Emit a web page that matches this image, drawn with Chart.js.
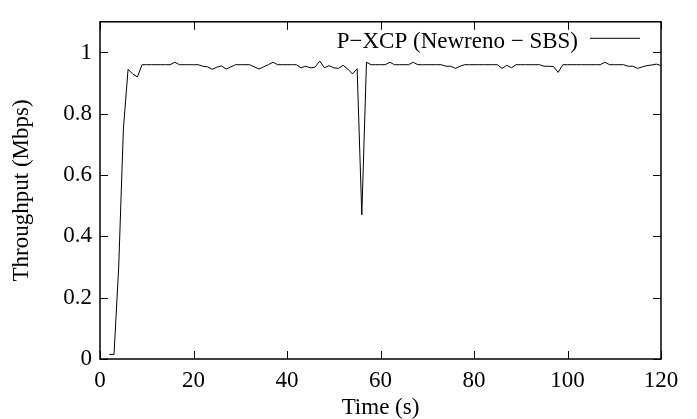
<!DOCTYPE html>
<html>
<head>
<meta charset="utf-8">
<title>P-XCP throughput</title>
<script src="https://cdn.jsdelivr.net/npm/chart.js@4/dist/chart.umd.min.js"></script>
<style>
  html, body { margin: 0; padding: 0; background: #fff; }
  #chart { display: block; }
</style>
</head>
<body>
<canvas id="chart" width="697" height="419"></canvas>
<script>
// ---- data ----
const timeS = [
  2, 3, 4, 5, 6, 7, 8, 9, 10, 11, 12, 13, 14, 15, 16, 17, 18, 19, 20,
  21, 22, 23, 24, 25, 26, 27, 28, 29, 30, 31, 32, 33, 34, 35, 36, 37, 38, 39, 40,
  41, 42, 43, 44, 45, 46, 47, 48, 49, 50, 51, 52, 53, 54, 55, 56, 57, 58, 59, 60,
  61, 62, 63, 64, 65, 66, 67, 68, 69, 70, 71, 72, 73, 74, 75, 76, 77, 78, 79, 80,
  81, 82, 83, 84, 85, 86, 87, 88, 89, 90, 91, 92, 93, 94, 95, 96, 97, 98, 99, 100,
  101, 102, 103, 104, 105, 106, 107, 108, 109, 110, 111, 112, 113, 114, 115, 116, 117, 118, 119, 120
];
const throughputMbps = [
  0.015, 0.015, 0.30, 0.75, 0.945, 0.93, 0.92, 0.96, 0.96, 0.96, 0.96, 0.96, 0.96, 0.96, 0.968, 0.96, 0.96, 0.96, 0.96,
  0.96, 0.955, 0.953, 0.945, 0.952, 0.956, 0.946, 0.953, 0.96, 0.96, 0.96, 0.96, 0.953, 0.946, 0.953, 0.96, 0.968, 0.96, 0.96, 0.96,
  0.96, 0.96, 0.95, 0.955, 0.95, 0.952, 0.972, 0.95, 0.957, 0.95, 0.948, 0.958, 0.946, 0.93, 0.947, 0.47, 0.968, 0.96, 0.96, 0.96,
  0.96, 0.968, 0.96, 0.96, 0.96, 0.96, 0.968, 0.96, 0.96, 0.96, 0.96, 0.96, 0.96, 0.955, 0.955, 0.948, 0.955, 0.96, 0.96, 0.96,
  0.96, 0.96, 0.96, 0.96, 0.96, 0.948, 0.958, 0.95, 0.96, 0.96, 0.96, 0.96, 0.96, 0.96, 0.955, 0.955, 0.954, 0.935, 0.96, 0.96,
  0.96, 0.96, 0.96, 0.96, 0.96, 0.96, 0.96, 0.968, 0.96, 0.96, 0.96, 0.96, 0.955, 0.955, 0.948, 0.953, 0.957, 0.959, 0.962, 0.957
];
const xTickValues = [0, 20, 40, 60, 80, 100, 120];
const yTickValues = [0, 0.2, 0.4, 0.6, 0.8, 1];
const seriesLabel = 'P\u2212XCP (Newreno \u2212 SBS)';

const FONT = { family: '"Liberation Serif", "DejaVu Serif", serif', size: 23 };
const TICK_LEN = 8;

// gnuplot-style frame: box, inward ticks mirrored on all sides, key inside top-right
const gnuplotFrame = {
  id: 'gnuplotFrame',
  afterDatasetsDraw(chart) {
    const { ctx, chartArea: a, scales } = chart;
    ctx.save();
    ctx.strokeStyle = '#000';
    ctx.lineWidth = 1;
    ctx.beginPath();
    xTickValues.forEach((v) => {
      const px = Math.round(scales.x.getPixelForValue(v)) + 0.5;
      ctx.moveTo(px, a.bottom); ctx.lineTo(px, a.bottom - TICK_LEN);
      ctx.moveTo(px, a.top); ctx.lineTo(px, a.top + TICK_LEN);
    });
    yTickValues.forEach((v) => {
      const py = Math.round(scales.y.getPixelForValue(v)) + 0.5;
      ctx.moveTo(a.left, py); ctx.lineTo(a.left + TICK_LEN, py);
      ctx.moveTo(a.right, py); ctx.lineTo(a.right - TICK_LEN, py);
    });
    ctx.stroke();

    ctx.lineWidth = 1.5;
    ctx.strokeRect(a.left, a.top, a.right - a.left, a.bottom - a.top);

    // key
    const ds = chart.data.datasets[0];
    ctx.fillStyle = '#000';
    ctx.font = FONT.size + 'px ' + FONT.family;
    ctx.textAlign = 'right';
    ctx.textBaseline = 'alphabetic';
    ctx.fillText(ds.label, a.right - 83, a.top + 26);
    ctx.lineWidth = 1;
    ctx.strokeStyle = ds.borderColor;
    ctx.beginPath();
    ctx.moveTo(a.right - 71, a.top + 16.5);
    ctx.lineTo(a.right - 21, a.top + 16.5);
    ctx.stroke();
    ctx.restore();
  },
};

const ctx = document.getElementById('chart');

new Chart(ctx, {
  type: 'line',
  data: {
    datasets: [
      {
        label: seriesLabel,
        data: timeS.map((t, i) => ({ x: t, y: throughputMbps[i] })),
        borderColor: '#000',
        borderWidth: 1,
        pointRadius: 0,
        tension: 0,
        fill: false,
      },
    ],
  },
  options: {
    responsive: false,
    animation: false,
    devicePixelRatio: 1,
    layout: { padding: { top: 7, right: 36, left: 0, bottom: 0 } },
    plugins: {
      legend: { display: false },
      tooltip: { enabled: false },
    },
    scales: {
      x: {
        type: 'linear',
        min: 0,
        max: 120,
        afterBuildTicks: (s) => { s.ticks = xTickValues.map((v) => ({ value: v })); },
        afterFit: (s) => { s.height = 60; },
        grid: { display: false, drawTicks: false },
        border: { display: false },
        ticks: { color: '#000', font: FONT, padding: 8, maxRotation: 0, autoSkip: false },
        title: { display: true, text: 'Time (s)', color: '#000', font: FONT, padding: { top: 0, bottom: -3 } },
      },
      y: {
        type: 'linear',
        min: 0,
        max: 1.1,
        afterBuildTicks: (s) => { s.ticks = yTickValues.map((v) => ({ value: v })); },
        afterFit: (s) => { s.width = 100; },
        grid: { display: false, drawTicks: false },
        border: { display: false },
        ticks: { color: '#000', font: FONT, padding: 8, autoSkip: false, callback: (v) => String(v) },
        title: { display: true, text: 'Throughput (Mbps)', color: '#000', font: FONT, padding: { top: 8, bottom: 0 } },
      },
    },
  },
  plugins: [gnuplotFrame],
});
</script>
</body>
</html>
